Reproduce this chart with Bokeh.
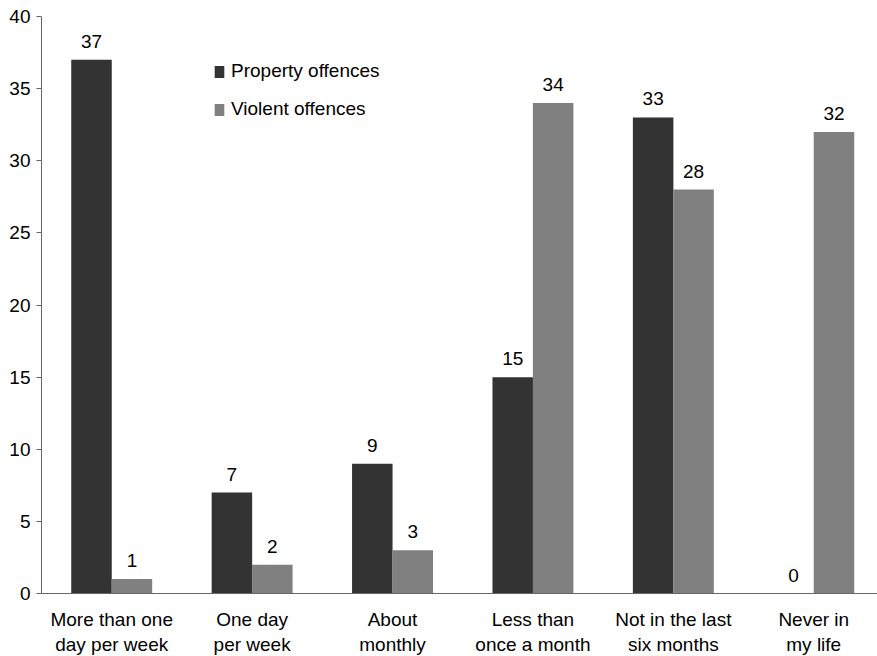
from bokeh.plotting import figure
from bokeh.models import Range1d, FixedTicker, Legend, LegendItem, ColumnDataSource
from bokeh.embed import file_html
from bokeh.resources import INLINE
from bokeh.transform import dodge

categories = ["More than one\nday per week", "One day\nper week", "About\nmonthly",
              "Less than\nonce a month", "Not in the last\nsix months", "Never in\nmy life"]
property_offences = [37, 7, 9, 15, 33, 0]
violent_offences = [1, 2, 3, 34, 28, 32]
y_ticks = [0, 5, 10, 15, 20, 25, 30, 35, 40]

xs = list(range(len(categories)))
src = ColumnDataSource(dict(x=xs, p=property_offences, v=violent_offences,
                            pl=[str(a) for a in property_offences],
                            vl=[str(a) for a in violent_offences]))

FONT = "Liberation Sans"
FS = "19px"
DARK = "#333333"
GRAY = "#808080"

p = figure(frame_width=836, frame_height=577, output_backend="svg", toolbar_location=None,
           x_range=Range1d(-0.5, 5.454), y_range=Range1d(0, 40),
           min_border_left=41, min_border_top=16, min_border_right=0, min_border_bottom=10)
p.outline_line_color = None
p.grid.visible = False
p.background_fill_color = "white"

bw = 0.2885
off = 0.144
r1 = p.vbar(x=dodge("x", -off), top="p", width=bw, source=src, fill_color=DARK, line_color=None)
r2 = p.vbar(x=dodge("x", off), top="v", width=bw, source=src, fill_color=GRAY, line_color=None)

p.text(x=dodge("x", -off), y="p", text="pl", source=src, text_align="center",
       text_baseline="bottom", y_offset=-12, text_font_size=FS,
       text_font={"value": FONT}, text_color="#000000")
p.text(x=dodge("x", off), y="v", text="vl", source=src, text_align="center",
       text_baseline="bottom", y_offset=-12, text_font_size=FS,
       text_font={"value": FONT}, text_color="#000000")

p.yaxis.ticker = FixedTicker(ticks=y_ticks)
p.yaxis.minor_tick_line_color = None
p.yaxis.major_tick_in = 0
p.yaxis.major_tick_out = 5
p.yaxis.major_label_standoff = 6
p.yaxis.major_label_text_font_size = FS
p.yaxis.major_label_text_font = FONT
p.yaxis.major_label_text_color = "#000000"
p.yaxis.axis_line_color = "#666666"
p.yaxis.major_tick_line_color = "#666666"

p.xaxis.ticker = FixedTicker(ticks=xs)
p.xaxis.major_label_overrides = {i: c for i, c in zip(xs, categories)}
p.xaxis.major_tick_line_color = None
p.xaxis.minor_tick_line_color = None
p.xaxis.major_label_standoff = 9
p.xaxis.major_label_text_font_size = FS
p.xaxis.major_label_text_font = FONT
p.xaxis.major_label_text_color = "#000000"
p.xaxis.axis_line_color = "#666666"

legend = Legend(items=[LegendItem(label="Property offences", renderers=[r1]),
                       LegendItem(label="Violent offences", renderers=[r2])],
                location=(172, 473), padding=0, margin=0, spacing=16,
                glyph_width=12, glyph_height=15, label_standoff=6,
                label_text_font_size=FS, label_text_font=FONT,
                label_text_color="#000000",
                border_line_color=None, background_fill_alpha=0)
p.add_layout(legend)

open("out.html", "w").write(file_html(p, INLINE))
